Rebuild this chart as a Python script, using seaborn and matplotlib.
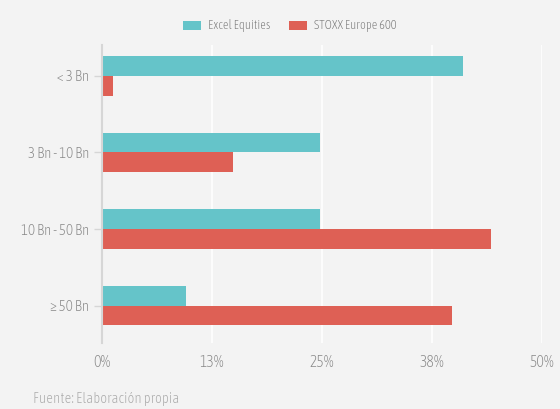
import matplotlib
matplotlib.use("Agg")
import matplotlib.pyplot as plt
import seaborn as sns
import pandas as pd
from matplotlib.ticker import FixedLocator, FixedFormatter

categories = ["< 3 Bn", "3 Bn - 10 Bn", "10 Bn - 50 Bn", "\u2265 50 Bn"]
excel_equities = [0.410, 0.248, 0.248, 0.095]
stoxx_europe_600 = [0.0125, 0.149, 0.442, 0.398]
series_names = ["Excel Equities", "STOXX Europe 600"]
x_ticks = [0, 0.125, 0.25, 0.375, 0.5]
x_tick_labels = ["0%", "13%", "25%", "38%", "50%"]

df = pd.DataFrame({
    "cat": categories * 2,
    "val": excel_equities + stoxx_europe_600,
    "serie": [series_names[0]] * 4 + [series_names[1]] * 4,
})

sns.set_theme(style="white")
plt.rcParams["font.family"] = ["Asap Condensed", "DejaVu Sans"]
plt.rcParams["font.weight"] = "light"

bg = "#f3f3f3"
txt = "#878787"
fig = plt.figure(figsize=(5.6, 4.09), dpi=100, facecolor=bg)
ax = fig.add_axes([102 / 560, 1 - 343 / 409, 440 / 560, (343 - 45) / 409])
ax.set_facecolor(bg)

palette = {series_names[0]: "#65c4c9", series_names[1]: "#de6055"}
sns.barplot(data=df, y="cat", x="val", hue="serie", palette=palette,
            order=categories, hue_order=series_names, orient="h",
            width=0.52, ax=ax, saturation=1, edgecolor="none", linewidth=0)

ax.set_xlim(0, 0.5)
ax.set_ylim(3.49, -0.405)
ax.xaxis.set_major_locator(FixedLocator(x_ticks))
ax.xaxis.set_major_formatter(FixedFormatter(x_tick_labels))
ax.grid(axis="x", color="white", linewidth=1.2)
ax.set_axisbelow(True)
for s in ["top", "right", "bottom"]:
    ax.spines[s].set_visible(False)
ax.spines["left"].set_color("#d6d6d6")
ax.spines["left"].set_linewidth(1.5)
ax.tick_params(axis="y", length=6, width=1, color="#d6d6d6", labelcolor=txt,
               labelsize=10.8, pad=3, left=True)
ax.tick_params(axis="x", length=0, labelcolor=txt, labelsize=11.3, pad=8)
ax.set_xlabel("")
ax.set_ylabel("")

handles, labels = ax.get_legend_handles_labels()
ax.legend_.remove()
leg = fig.legend(handles, labels, loc="center", bbox_to_anchor=(290 / 560, 1 - 26 / 409),
                 ncol=2, frameon=False, fontsize=9, handlelength=1.4, handleheight=0.75,
                 columnspacing=1.5, handletextpad=0.6)
for t in leg.get_texts():
    t.set_color("#777777")

fig.text(33 / 560, 1 - 399 / 409, "Fuente: Elaboraci\u00f3n propia", color="#aaaaaa",
         fontsize=10.7, va="center", ha="left")

fig.savefig("out.png", dpi=100, facecolor=bg)
